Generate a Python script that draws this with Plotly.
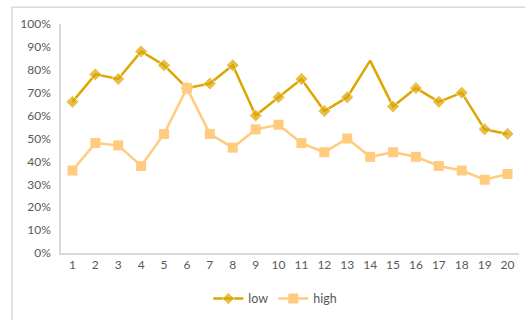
import plotly.graph_objects as go

categories = [str(i) for i in range(1, 21)]
low = [0.66, 0.78, 0.76, 0.88, 0.82, 0.72, 0.74, 0.82, 0.60, 0.68,
       0.76, 0.62, 0.68, 0.84, 0.64, 0.72, 0.66, 0.70, 0.54, 0.52]
high = [0.36, 0.48, 0.47, 0.38, 0.52, 0.72, 0.52, 0.46, 0.54, 0.56,
        0.48, 0.44, 0.50, 0.42, 0.44, 0.42, 0.38, 0.36, 0.32, 0.345]
# point 14 of "low" is plotted without a marker
low_marker_sizes = [0 if c == "14" else 10 for c in categories]

LOW_COLOR = "#DEA600"
HIGH_COLOR = "#FFCB7E"
TEXT_COLOR = "#595959"
LINE_GREY = "#D9D9D9"

fig = go.Figure()
fig.add_trace(go.Scatter(
    x=categories, y=low, name="low", mode="lines+markers",
    line=dict(color=LOW_COLOR, width=2.5),
    marker=dict(symbol="diamond", size=low_marker_sizes, color=LOW_COLOR),
))
fig.add_trace(go.Scatter(
    x=categories, y=high, name="high", mode="lines+markers",
    line=dict(color=HIGH_COLOR, width=2.5),
    marker=dict(symbol="square", size=10, color=HIGH_COLOR),
))

fig.update_layout(
    width=525, height=320,
    margin=dict(l=61, r=6, t=24, b=62),
    paper_bgcolor="white", plot_bgcolor="white",
    font=dict(family="Lato, Open Sans, sans-serif", size=12, color=TEXT_COLOR),
    showlegend=True,
    legend=dict(orientation="h", x=0.468, xanchor="center", y=-0.135, yanchor="top",
                itemsizing="trace", itemwidth=30, font=dict(size=12.5),
                tracegroupgap=0),
    xaxis=dict(type="category", range=[-0.5, 19.5], showgrid=False, zeroline=False,
               showline=True, linecolor=LINE_GREY, linewidth=1.5, ticks="",
               tickfont=dict(size=12)),
    yaxis=dict(range=[0, 1], dtick=0.1, tickformat=".0%", showgrid=False,
               zeroline=False, showline=True, linecolor=LINE_GREY, linewidth=1.5,
               ticks="", ticklabelstandoff=6, tickfont=dict(size=12)),
    shapes=[dict(type="rect", xref="paper", yref="paper",
                 x0=-0.107, x1=1.2, y0=-0.6, y1=1.0726,
                 line=dict(color=LINE_GREY, width=1.5), fillcolor="rgba(0,0,0,0)",
                 layer="below")],
)

fig.write_html("out.html")
